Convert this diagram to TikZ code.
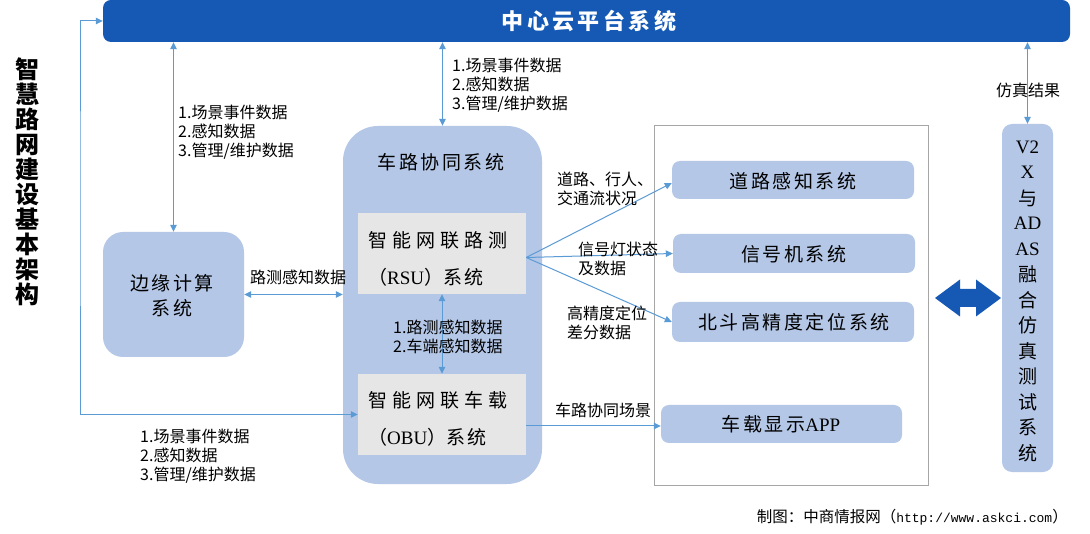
\documentclass[tikz,border=0pt]{standalone}
\usepackage{fontspec}
\setmainfont{Noto Sans CJK SC}
\newfontfamily\lat{Liberation Serif}
\newfontfamily\mono{Liberation Mono}
\usetikzlibrary{arrows.meta}
\definecolor{dblue}{HTML}{1559B5}
\definecolor{lblue}{HTML}{B4C7E7}
\definecolor{gboxc}{HTML}{E7E6E6}
\definecolor{aline}{HTML}{5B9BD5}
\definecolor{cgray}{HTML}{A6A6A6}
\makeatletter
\newcommand\trk[2]{\@tfor\trk@c:=#2\do{\trk@c\kern#1\relax}\kern-#1\relax}
\makeatother
\newcommand\fsz[2]{\fontsize{#1}{#2}\selectfont}
\tikzset{
  lbox/.style={fill=lblue, draw=none, rounded corners=#1, inner sep=0pt},
  lbox/.default=8pt,
  gbox/.style={fill=gboxc, draw=none, inner sep=0pt},
  conn/.style={draw=aline, line width=1pt, -{Triangle[length=7pt,width=6.5pt]}},
  conn2/.style={draw=aline, line width=1pt, {Triangle[length=7pt,width=6.5pt]}-{Triangle[length=7pt,width=6.5pt]}},
  lab/.style={font=\fsz{16}{19}, align=left, inner sep=0pt, anchor=west},
  btxt/.style={font=\fsz{19}{24}, inner sep=0pt, align=center},
}
\begin{document}
\begin{tikzpicture}[x=1pt,y=-1pt]
\useasboundingbox (0,0) rectangle (1090,534);
\fill[white] (0,0) rectangle (1090,534);

% title
\node[font=\bfseries\fsz{24}{25}, align=center, inner sep=0pt] (title) at (28,181.5)
  {智\\慧\\路\\网\\建\\设\\基\\本\\架\\构};

% cloud bar
\node[fill=dblue, rounded corners=8pt, minimum width=967pt, minimum height=42pt, inner sep=0pt] (cloud) at (586.5,21) {};
\node[font=\bfseries\fsz{22}{26}, text=white, inner sep=0pt] (cloudt) at (589,21) {\trk{3.5pt}{中心云平台系统}};

% edge box
\node[lbox=20pt, minimum width=141pt, minimum height=125pt] (edge) at (173.5,294.5) {};
\node[btxt, font=\fsz{19}{25}] (edget) at (172,295.5) {\trk{2.5pt}{边缘计算}\\\trk{2.5pt}{系统}};

% big V2I box
\node[lbox=35pt, minimum width=199pt, minimum height=358pt] (big) at (442.5,305) {};
\node[btxt] (bigt) at (441,162) {\trk{2.5pt}{车路协同系统}};

% RSU / OBU
\node[gbox, minimum width=168pt, minimum height=81pt] (rsu) at (442,253.5) {};
\node[btxt, anchor=west] (rsu1) at (368,240) {\trk{5pt}{智能网联路测}};
\node[btxt, anchor=west] (rsu2) at (368,277) {（{\lat RSU}）\trk{2.5pt}{系统}};
\node[gbox, minimum width=168pt, minimum height=81pt] (obu) at (442,414.5) {};
\node[btxt, anchor=west] (obu1) at (368,400) {\trk{5pt}{智能网联车载}};
\node[btxt, anchor=west] (obu2) at (368,437) {（{\lat OBU}）\trk{2.5pt}{系统}};

% right container
\node[draw=cgray, line width=1pt, minimum width=274pt, minimum height=359pt, inner sep=0pt] (cont) at (791,305.5) {};
\node[lbox, minimum width=242pt, minimum height=38pt] (road) at (793,180) {};
\node[btxt] (roadt) at (793,181) {\trk{2.5pt}{道路感知系统}};
\node[lbox, minimum width=242pt, minimum height=39pt] (sig) at (794,253.5) {};
\node[btxt] (sigt) at (794,254) {\trk{2.5pt}{信号机系统}};
\node[lbox, minimum width=242pt, minimum height=40pt] (bd) at (793,322) {};
\node[btxt] (bdt) at (794,322.5) {\trk{2.5pt}{北斗高精度定位系统}};
\node[lbox, minimum width=241pt, minimum height=38pt] (app) at (781.5,424) {};
\node[btxt] (appt) at (781,424.5) {\trk{2.5pt}{车载显示}{\lat APP}};

% V2X box
\node[lbox=10pt, minimum width=51pt, minimum height=348pt] (v2x) at (1027.5,298) {};
\foreach \t [count=\i from 0] in {{\lat V2},{\lat X},与,{\lat AD},{\lat AS},融,合,仿,真,测,试,系,统}
  \node[font=\fsz{19}{19}, inner sep=0pt] (v\i) at (1027.5,{147+25.5*\i}) {\t};

% block double arrow
\fill[dblue] (935,298) -- (960,279.5) -- (960,289) -- (976,289) -- (976,279.5) -- (1001,298)
  -- (976,316.5) -- (976,307) -- (960,307) -- (960,316.5) -- cycle;

% connectors
\coordinate (lc) at (80,200);
\draw[conn2] (cloud.west) -| (lc) |- (obu.west);
\draw[conn2] (cloud.south -| edge.north) -- (edge.north);
\draw[conn2] (cloud.south -| big.north) -- (big.north);
\draw[conn2] (cloud.south -| v2x.north) -- (v2x.north);
\draw[conn2] (edge.east) -- (edge.east -| big.west);
\draw[conn2] (rsu.south) -- (obu.north);
\coordinate (fan) at ([yshift=-4pt]rsu.east);
\draw[conn] (fan) -- ([yshift=-3pt]road.west);
\draw[conn] (fan) -- (sig.west);
\draw[conn] (fan) -- (bd.west);
\coordinate (obuo) at ([yshift=-11.5pt]obu.east);
\draw[conn] (obuo) -- (obuo -| app.west);

% labels
\node[lab] (l1) at (178,132) {1.场景事件数据\\2.感知数据\\3.管理/维护数据};
\node[lab] (l2) at (452,85) {1.场景事件数据\\2.感知数据\\3.管理/维护数据};
\node[lab] (l3) at (140,456) {1.场景事件数据\\2.感知数据\\3.管理/维护数据};
\node[lab, anchor=center] (l4) at (298,277) {路测感知数据};
\node[lab] (l5) at (393,336.5) {1.路测感知数据\\2.车端感知数据};
\node[lab] (l6) at (557,188.5) {道路、行人、\\交通流状况};
\node[lab] (l7) at (578,259) {信号灯状态\\及数据};
\node[lab] (l8) at (567,322.5) {高精度定位\\差分数据};
\node[lab, anchor=center] (l9) at (603,410) {车路协同场景};
\node[lab, anchor=center] (l10) at (1028,90) {仿真结果};
\node[font=\fsz{15.5}{18}, anchor=east, inner sep=0pt] (foot) at (1068,517)
  {制图：中商情报网（{\mono\fsz{13}{18}http://www.askci.com}）};
\end{tikzpicture}
\end{document}
